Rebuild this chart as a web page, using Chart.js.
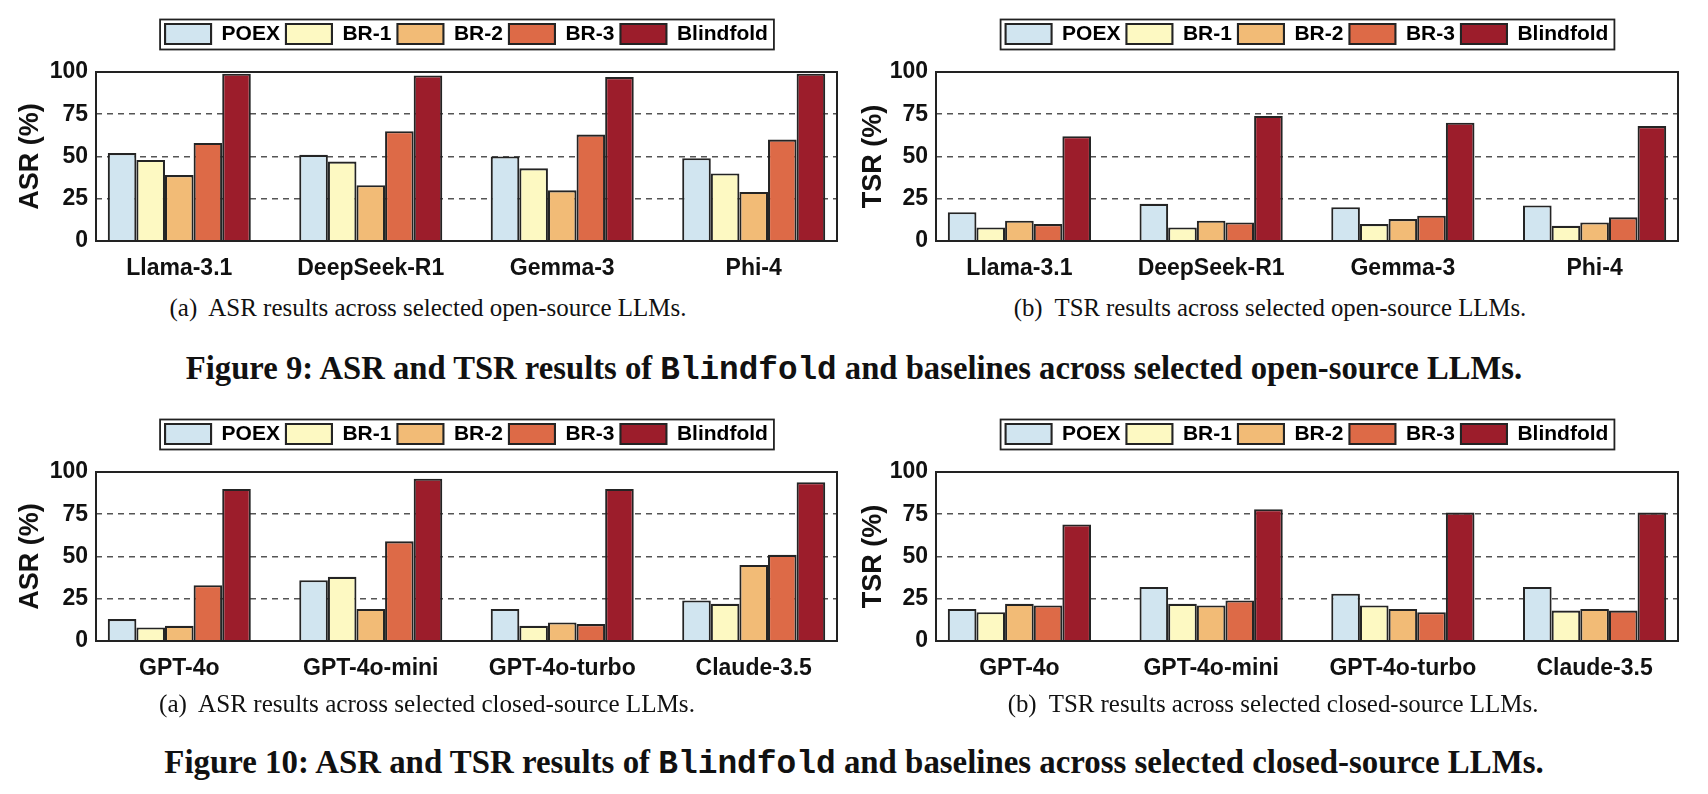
<!DOCTYPE html>
<html>
<head>
<meta charset="utf-8">
<script src="https://cdn.jsdelivr.net/npm/chart.js@4.4.1/dist/chart.umd.min.js"></script>
<style>
  html, body { margin: 0; padding: 0; background: #fff; }
  body { width: 1708px; height: 794px; position: relative; overflow: hidden; }
  .panel { position: absolute; width: 854px; height: 290px; }
  .cap { position: absolute; height: 34px; line-height: 34px; text-align: center; white-space: pre;
         font-family: 'Liberation Serif', 'Times New Roman', serif; color: #111; }
  .cap span { display: inline-block; }
  .sub { font-size: 24px; }
  .fig { font-size: 28px; font-weight: bold; }
  .mono { font-family: 'Liberation Mono', 'DejaVu Sans Mono', monospace; font-weight: bold; }
</style>
</head>
<body>
<div class="panel" style="left:0;top:0"><canvas id="asrOpenChart"></canvas></div>
<div class="panel" style="left:854px;top:0"><canvas id="tsrOpenChart"></canvas></div>
<div class="panel" style="left:0;top:400px"><canvas id="asrClosedChart"></canvas></div>
<div class="panel" style="left:854px;top:400px"><canvas id="tsrClosedChart"></canvas></div>

<div class="cap sub" style="left:-72px;width:1000px;top:291px" data-w="517"><span>(a)  ASR results across selected open-source LLMs.</span></div>
<div class="cap sub" style="left:770px;width:1000px;top:291px" data-w="513"><span>(b)  TSR results across selected open-source LLMs.</span></div>
<div class="cap fig" style="left:104px;width:1500px;top:351px" data-w="1337"><span>Figure 9: ASR and TSR results of <span class="mono">Blindfold</span> and baselines across selected open-source LLMs.</span></div>
<div class="cap sub" style="left:-73px;width:1000px;top:687px" data-w="536"><span>(a)  ASR results across selected closed-source LLMs.</span></div>
<div class="cap sub" style="left:773px;width:1000px;top:687px" data-w="531"><span>(b)  TSR results across selected closed-source LLMs.</span></div>
<div class="cap fig" style="left:104px;width:1500px;top:745px" data-w="1380"><span>Figure 10: ASR and TSR results of <span class="mono">Blindfold</span> and baselines across selected closed-source LLMs.</span></div>

<script>
const methods = ['POEX', 'BR-1', 'BR-2', 'BR-3', 'Blindfold'];
const methodColors = ['#d1e5f0', '#fdf9c2', '#f2bb76', '#dd6a47', '#9c1d2b'];
const openModels = ['Llama-3.1', 'DeepSeek-R1', 'Gemma-3', 'Phi-4'];
const closedModels = ['GPT-4o', 'GPT-4o-mini', 'GPT-4o-turbo', 'Claude-3.5'];
const yTicks = [0, 25, 50, 75, 100];

// one row per method (same order as `methods`), one column per model
const asrOpen = [
  [52, 51, 50, 49],
  [48, 47, 43, 40],
  [39, 33, 30, 29],
  [58, 65, 63, 60],
  [99, 98, 97, 99],
];
const tsrOpen = [
  [17, 22, 20, 21],
  [8, 8, 10, 9],
  [12, 12, 13, 11],
  [10, 11, 15, 14],
  [62, 74, 70, 68],
];
const asrClosed = [
  [13, 36, 19, 24],
  [8, 38, 9, 22],
  [9, 19, 11, 45],
  [33, 59, 10, 51],
  [90, 96, 90, 94],
];
const tsrClosed = [
  [19, 32, 28, 32],
  [17, 22, 21, 18],
  [22, 21, 19, 19],
  [21, 24, 17, 18],
  [69, 78, 76, 76],
];

const FONT = "'Liberation Sans', Arial, Helvetica, sans-serif";
const X_PAD = 0.435; // matlab-ish xlim margin around first/last group
Chart.defaults.font.family = FONT;

// legend spacing + plot box + legend box (chart.js has no border for either)
const framePlugin = {
  id: 'frame',
  beforeInit(chart) {
    if (!chart.legend) return;
    const fit = chart.legend.fit;
    chart.legend.fit = function () {
      fit.call(this);
      this.height += 17.5;
    };
  },
  afterDraw(chart) {
    const { ctx, chartArea: a, legend } = chart;
    ctx.save();
    ctx.strokeStyle = '#222';
    ctx.lineWidth = 2;
    ctx.strokeRect(a.left, a.top, a.right - a.left, a.bottom - a.top);
    const boxes = legend ? legend.legendHitBoxes : [];
    if (boxes.length) {
      const l = Math.min(...boxes.map((b) => b.left)) - 5;
      const r = Math.max(...boxes.map((b) => b.left + b.width)) + 6;
      const t = Math.min(...boxes.map((b) => b.top)) - 4;
      const bt = Math.max(...boxes.map((b) => b.top + b.height)) + 5;
      ctx.lineWidth = 1.8;
      ctx.strokeRect(l, t, r - l, bt - t);
    }
    ctx.restore();
  },
};

function drawPanel(id, models, values, yTitle, axisWidth, rightPad, titlePad) {
  return new Chart(document.getElementById(id), {
    type: 'bar',
    data: {
      datasets: methods.map((m, k) => ({
        label: m,
        data: values[k].map((v, i) => ({ x: i + 1, y: v })),
        backgroundColor: methodColors[k],
        borderColor: '#242424',
        borderWidth: 2.1,
        categoryPercentage: 0.747,
        barPercentage: 1,
      })),
    },
    options: {
      responsive: true,
      maintainAspectRatio: false,
      animation: false,
      layout: { padding: { top: 17.5, right: rightPad, left: 0, bottom: 0 } },
      plugins: {
        legend: {
          position: 'top',
          fullSize: false,
          labels: {
            boxWidth: 46,
            boxHeight: 20,
            padding: 6,
            color: '#000',
            font: { family: FONT, size: 21, weight: 'bold' },
          },
        },
        tooltip: { enabled: false },
      },
      scales: {
        x: {
          type: 'linear',
          offset: false,
          min: 1 - X_PAD,
          max: models.length + X_PAD,
          afterBuildTicks: (s) => { s.ticks = models.map((_, i) => ({ value: i + 1 })); },
          afterFit: (s) => { s.height = 49; },
          grid: { display: false },
          border: { display: false },
          ticks: {
            autoSkip: false,
            maxRotation: 0,
            padding: 6,
            color: '#111',
            font: { family: FONT, size: 23, weight: 'bold' },
            callback: (v) => models[v - 1] ?? '',
          },
        },
        y: {
          min: 0,
          max: 100,
          afterBuildTicks: (s) => { s.ticks = yTicks.map((v) => ({ value: v })); },
          afterFit: (s) => { s.width = axisWidth; },
          grid: {
            drawTicks: false,
            lineWidth: 1.6,
            color: (c) => (c.tick && c.tick.value > 0 && c.tick.value < 100 ? '#555' : 'rgba(0,0,0,0)'),
          },
          border: { display: false, dash: [6, 5] },
          ticks: {
            padding: 8,
            color: '#111',
            font: { family: FONT, size: 23, weight: 'bold' },
          },
          title: {
            display: true,
            text: yTitle,
            color: '#111',
            font: { family: FONT, size: 27, weight: 'bold' },
            padding: { top: titlePad, bottom: 0 },
          },
        },
      },
    },
    plugins: [framePlugin],
  });
}

drawPanel('asrOpenChart', openModels, asrOpen, 'ASR (%)', 96, 17, 14);
drawPanel('tsrOpenChart', openModels, tsrOpen, 'TSR (%)', 82, 30, 3);
drawPanel('asrClosedChart', closedModels, asrClosed, 'ASR (%)', 96, 17, 14);
drawPanel('tsrClosedChart', closedModels, tsrClosed, 'TSR (%)', 82, 30, 3);

// squeeze/stretch caption text to the width it has in the paper
document.querySelectorAll('.cap').forEach((el) => {
  const span = el.firstElementChild;
  const w = span.getBoundingClientRect().width;
  const size = parseFloat(getComputedStyle(el).fontSize);
  el.style.fontSize = (size * Number(el.dataset.w) / w).toFixed(2) + 'px';
});
</script>
</body>
</html>
